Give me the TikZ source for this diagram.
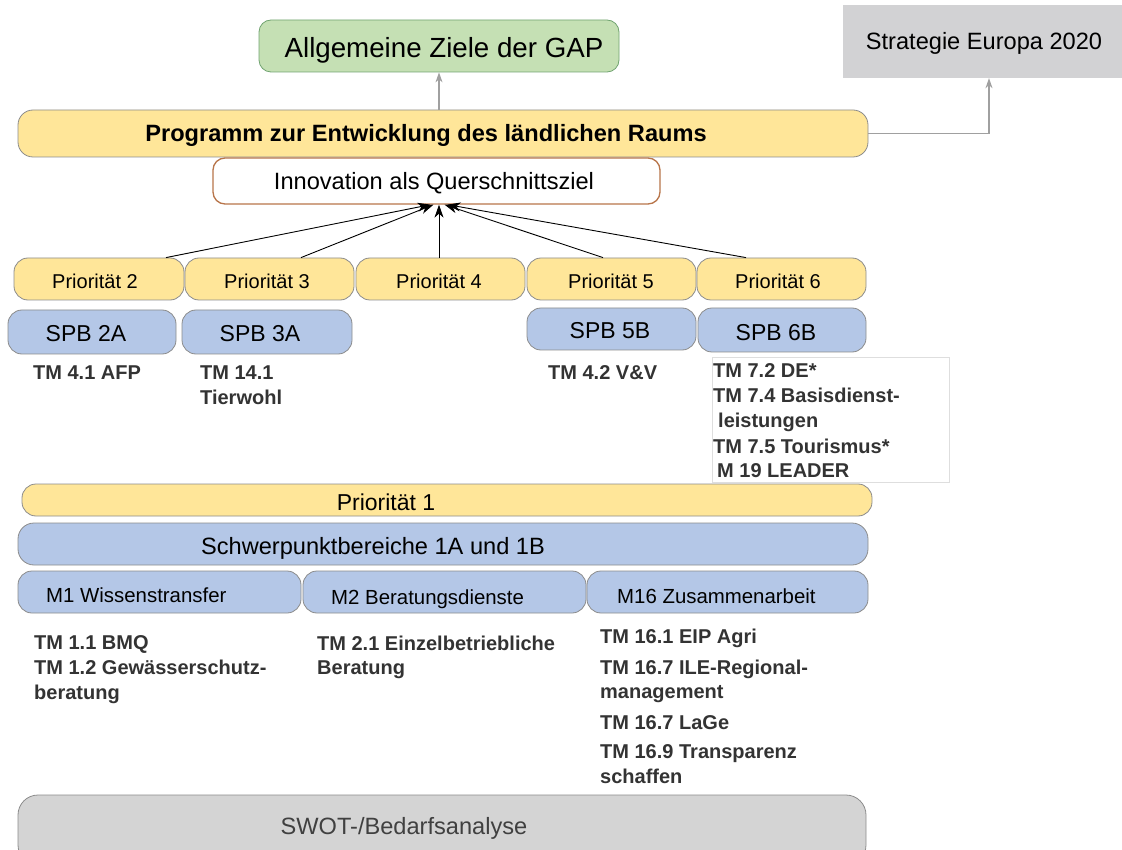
\documentclass[tikz,border=0pt]{standalone}
\usepackage{fontspec}
\setmainfont{Liberation Sans}
\usetikzlibrary{arrows.meta}
\definecolor{yel}{HTML}{FFE699}
\definecolor{blu}{HTML}{B4C7E7}
\definecolor{grn}{HTML}{C5E0B4}
\definecolor{gry}{HTML}{D2D2D4}
\definecolor{swg}{HTML}{D4D4D4}
\definecolor{bd}{HTML}{8C8C8C}
\definecolor{inb}{HTML}{B8754A}
\definecolor{tmc}{HTML}{333333}
\definecolor{arg}{HTML}{A0A0A0}
\newcommand{\myfs}[1]{\fontsize{#1}{#1}\selectfont}
\begin{document}
\begin{tikzpicture}[x=1pt,y=-1pt,
  bx/.style={draw=bd, line width=0.8pt, inner sep=0pt},
  ybx/.style={bx, fill=yel, rounded corners=14},
  bbx/.style={bx, fill=blu, rounded corners=14},
  tx/.style 2 args={inner sep=0pt, font=\myfs{#1}, text height=#2, text depth=0pt},
  tm/.style={tx={20}{14.3}, font=\myfs{20}\bfseries, text=tmc, anchor=west},
  arr/.style={-{Stealth[length=13pt,width=9pt,inset=4pt]}, line width=0.9pt},
  garr/.style={draw=arg, -{Stealth[length=10pt,width=7pt]}, line width=1.1pt}]
\clip (0,0) rectangle (1122,850);
% top boxes
\node[bx, fill=grn, draw=bd!80!green, rounded corners=12, minimum width=360, minimum height=52] (allg) at (439,46) {};
\node[tx={27.7}{19.8}] (allgt) at (444,48) {Allgemeine Ziele der GAP};
\node[inner sep=0pt, fill=gry, minimum width=279, minimum height=73] (strat) at (982.5,41.5) {};
\node[tx={23.6}{16.9}] (stratt) at (984,41) {Strategie Europa 2020};
\node[ybx, rounded corners=15, minimum width=850, minimum height=47] (prog) at (443,133.5) {};
\node[tx={23.6}{16.9}, font=\myfs{23.6}\bfseries] (progt) at (426,133) {Programm zur Entwicklung des ländlichen Raums};
\node[bx, draw=inb, line width=1.3pt, fill=white, rounded corners=12, minimum width=447, minimum height=46] (inno) at (436.5,181) {};
\node[tx={23.6}{16.9}] (innot) at (434,181) {Innovation als Querschnittsziel};
% priorities
\node[ybx, minimum width=170, minimum height=42] (p2) at (99,279) {};
\node[ybx, minimum width=169, minimum height=42] (p3) at (269.5,279) {};
\node[ybx, minimum width=169, minimum height=42] (p4) at (440.5,279) {};
\node[ybx, minimum width=169, minimum height=42] (p5) at (611.5,279) {};
\node[ybx, minimum width=169, minimum height=42] (p6) at (781.5,279) {};
\node[tx={20}{14.3}] (p2t) at (95,281) {Priorität 2};
\node[tx={20}{14.3}] (p3t) at (267,281) {Priorität 3};
\node[tx={20}{14.3}] (p4t) at (439,281) {Priorität 4};
\node[tx={20}{14.3}] (p5t) at (611,281) {Priorität 5};
\node[tx={20}{14.3}] (p6t) at (778,281) {Priorität 6};
% SPB
\node[bbx, minimum width=168, minimum height=44] (s2a) at (92,332) {};
\node[bbx, minimum width=170, minimum height=44] (s3a) at (267,332) {};
\node[bbx, minimum width=169, minimum height=42] (s5b) at (611.5,329) {};
\node[bbx, minimum width=168, minimum height=44] (s6b) at (782,330) {};
\node[tx={23}{16.5}] (s2at) at (86,333) {SPB 2A};
\node[tx={23}{16.5}] (s3at) at (260,333) {SPB 3A};
\node[tx={23}{16.5}] (s5bt) at (610,330) {SPB 5B};
\node[tx={23}{16.5}] (s6bt) at (776,332) {SPB 6B};
% TM texts upper
\node[tm] (tm41) at (33,372) {TM 4.1 AFP};
\node[tm] (tm141) at (200,372) {TM 14.1};
\node[tm] (tm141b) at (200,397) {Tierwohl};
\node[tm] (tm42) at (548,372) {TM 4.2 V\&V};
\node[draw=black!13, line width=0.8pt, inner sep=0pt, minimum width=237, minimum height=125] (tmbox) at (830.5,419.5) {};
\node[tm] (tm72) at (713,370) {TM 7.2 DE*};
\node[tm] (tm74) at (713,395) {TM 7.4 Basisdienst-};
\node[tm] (tm74b) at (718,420) {leistungen};
\node[tm] (tm75) at (713,446) {TM 7.5 Tourismus*};
\node[tm] (m19) at (717,470) {M 19 LEADER};
% priority 1
\node[ybx, minimum width=850, minimum height=32] (p1) at (447,500) {};
\node[tx={23}{16.5}] (p1t) at (386,502) {Priorität 1};
\node[bbx, rounded corners=16, minimum width=850, minimum height=42] (spb) at (443,544) {};
\node[tx={23.6}{16.9}] (spbt) at (373,546) {Schwerpunktbereiche 1A und 1B};
\node[bbx, minimum width=283, minimum height=42] (m1) at (159.5,592) {};
\node[bbx, minimum width=283, minimum height=42] (m2) at (444.5,592) {};
\node[bbx, minimum width=281, minimum height=42] (m16) at (727.5,592) {};
\node[tx={20.4}{14.6}, anchor=west] (m1t) at (46,595) {M1 Wissenstransfer};
\node[tx={20.4}{14.6}, anchor=west] (m2t) at (331,597) {M2 Beratungsdienste};
\node[tx={20.4}{14.6}, anchor=west] (m16t) at (617,596) {M16 Zusammenarbeit};
% TM texts lower
\node[tm] (tm11) at (34,642) {TM 1.1 BMQ};
\node[tm] (tm12) at (34,667) {TM 1.2 Gewässerschutz-};
\node[tm] (tm12b) at (34,692) {beratung};
\node[tm] (tm21) at (317,643) {TM 2.1 Einzelbetriebliche};
\node[tm] (tm21b) at (317,667) {Beratung};
\node[tm] (tm161) at (600,636) {TM 16.1 EIP Agri};
\node[tm] (tm167) at (600,667) {TM 16.7 ILE-Regional-};
\node[tm] (tm167b) at (600,691) {management};
\node[tm] (tm167c) at (600,722) {TM 16.7 LaGe};
\node[tm] (tm169) at (600,751) {TM 16.9 Transparenz};
\node[tm] (tm169b) at (600,776) {schaffen};
% SWOT
\node[bx, fill=swg, rounded corners=20, minimum width=848, minimum height=70] (swot) at (442,830) {};
\node[tx={23.6}{16.9}, text=black!75] (swott) at (404,826) {SWOT-/Bedarfsanalyse};
% connectors
\draw[garr] (prog.north -| allg.south) -- (allg.south);
\draw[garr] (prog.east) -| ([xshift=6.5]strat.south);
\draw[arr] ([xshift=67]p2.north) -- ([xshift=-6]inno.south);
\draw[arr] ([xshift=31.5]p3.north) -- ([xshift=-3]inno.south);
\draw[arr] ([xshift=-1.5]p4.north) -- ([xshift=2.5]inno.south);
\draw[arr] ([xshift=-8.5]p5.north) -- ([xshift=8]inno.south);
\draw[arr] ([xshift=-35.5]p6.north) -- ([xshift=11]inno.south);
\end{tikzpicture}
\end{document}
